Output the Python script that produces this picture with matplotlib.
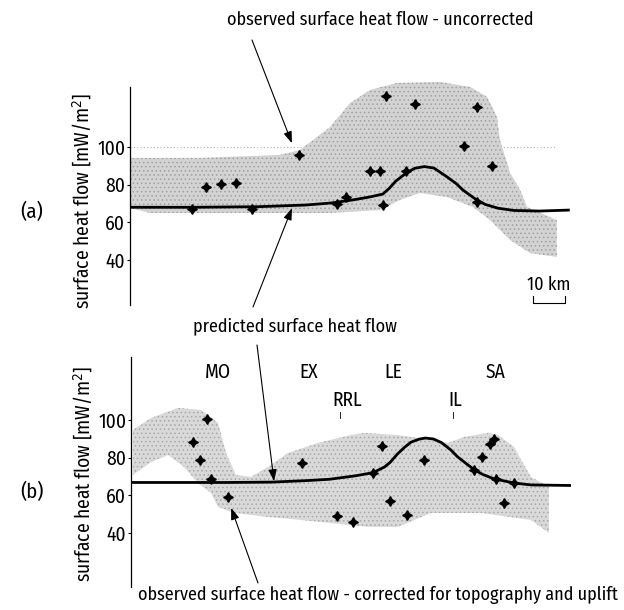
import matplotlib
matplotlib.use("Agg")
import matplotlib.pyplot as plt

plt.rcParams["font.family"] = ["Fira Sans Condensed", "DejaVu Sans"]
plt.rcParams["font.stretch"] = "condensed"
plt.rcParams["hatch.linewidth"] = 0.6

# ---- panel (a): uncorrected ----
curve_a_x = [0, 20, 40, 55, 63, 70, 75, 79, 81, 83, 86.5, 89, 92, 95, 99, 102, 104, 108, 111, 115, 120, 128, 137]
curve_a_y = [68, 68, 68.3, 69.2, 70.3, 72, 73.5, 75, 78, 81.8, 86.4, 88.7, 89.6, 88.8, 84.2, 80.5, 77.2, 72.3, 69.5, 67.5, 66.3, 66, 66.5]

obs_a_x = [19.4, 23.8, 28.4, 33.1, 38.1, 52.8, 64.7, 67.5, 75, 78.1, 79, 80, 86.3, 89, 104.4, 108.4, 113, 108.4]
obs_a_y = [67, 79, 80.5, 81, 67, 96, 70, 73.5, 87, 87, 69, 127, 87, 123, 100.5, 121, 90, 71]

band_a_x = [0, 21.9, 46.9, 53.1, 62.5, 68.8, 75, 83.4, 96.9, 106.3, 111.6, 114.7, 115.6, 118.8, 121.9, 124.1,
            133.4, 133.4, 125, 118.8, 112.5, 107.2, 99.1, 90.6, 84.4, 78.1, 62.5, 6.3, 0]
band_a_y = [94.2, 94.2, 95.8, 98.4, 110.6, 123.4, 130.3, 134, 134.5, 131.9, 126.6, 115.9, 103.7, 86.2, 77.2, 68.1,
            61.2, 41.6, 43.7, 50.6, 61.2, 68.1, 73.4, 75.6, 71.9, 66.5, 65, 65, 67.6]

# ---- panel (b): corrected ----
curve_b_x = [0, 30, 44, 55, 62, 70, 75.6, 79.2, 81, 83.3, 85.5, 87.5, 90, 92, 94.5, 97, 100, 102, 105, 107.3, 110, 113.5, 119.8, 125, 137.5]
curve_b_y = [66.8, 66.8, 67, 67.8, 68.5, 70.3, 72, 75, 77.5, 82, 85.5, 88.2, 89.8, 90.4, 89.9, 88, 84, 80.5, 76.5, 73.5, 71, 68.7, 66.5, 65.5, 65.2]

obs_b_x = [23.8, 19.4, 21.6, 25, 30.3, 53.4, 64.4, 69.4, 75.6, 78.4, 80.9, 86.3, 91.6, 107.2, 109.7, 112.2, 113.4, 114, 116.6, 119.7]
obs_b_y = [100.5, 88.5, 79, 68.5, 59, 77, 49, 46, 72, 86, 57, 49.5, 79, 73.5, 80.5, 87, 90, 68.5, 56, 66.5]

band_b_x = [0.6, 6.3, 14.7, 21.9, 27.2, 29.7, 32.8, 37.5, 42.8, 49.1, 58.4, 68.8, 72.8, 83.4, 93.8, 99.1, 104.1, 111.6,
            114.7, 119.7, 121.9, 125, 130.6, 130.6, 125, 109.4, 93.8, 83.4, 74.1, 53.1, 42.8, 32.2, 27.2, 25, 20.9,
            16.6, 11.6, 6.3, 0.6]
band_b_y = [94.7, 101.1, 106.4, 105.3, 98.4, 82.5, 70.8, 69.7, 75, 82.5, 87.8, 92, 93.1, 92, 89.4, 87.8, 91, 93.1,
            92, 85.7, 78.8, 69.7, 64.4, 40, 46.9, 50.6, 50.6, 43.2, 43.2, 46.9, 48.5, 50.6, 53.8, 61.2, 66.5,
            75, 81.4, 77.7, 70.8]

provinces = ["MO", "EX", "LE", "SA"]
province_x = [27.2, 55.6, 81.9, 114]
faults = ["RRL", "IL"]
fault_label_x = [67.5, 101.3]
fault_x = [65.3, 100.6]

yticks = [40, 60, 80, 100]

fig = plt.figure(figsize=(6.24, 6.10), dpi=100)
ax_a = fig.add_axes([130 / 624, 1 - 309 / 610, 440 / 624, (309 - 75.4) / 610])
ax_b = fig.add_axes([131 / 624, 1 - 593.2 / 610, 440 / 624, (593.2 - 348.4) / 610])


def style(ax, ylim, bounds, label_y):
    ax.set_xlim(0, 137.5)
    ax.set_ylim(*ylim)
    for s in ["top", "right", "bottom"]:
        ax.spines[s].set_visible(False)
    ax.spines["left"].set_bounds(*bounds)
    ax.spines["left"].set_linewidth(0.9)
    ax.set_xticks([])
    ax.set_yticks(yticks)
    ax.tick_params(axis="y", length=2.5, width=0.8, pad=1, labelsize=14)
    ax.set_ylabel("surface heat flow [mW/m$^2$]", fontsize=14)
    ax.yaxis.set_label_coords(-0.082, label_y)
    ax.patch.set_visible(False)


style(ax_a, (14, 138), (16, 132), 0.462)
style(ax_b, (8, 138), (11.3, 133.5), 0.487)

# panel a
ax_a.hlines(100, 0, 133, colors="#b0b0b0", linestyles=(0, (1, 2)), linewidth=0.8, zorder=0)
ax_a.fill(band_a_x, band_a_y, facecolor="#d3d3d3", hatch="....", edgecolor="#a0a0a0", linewidth=0, zorder=1)
ax_a.plot(curve_a_x, curve_a_y, color="black", linewidth=2, zorder=3)
ax_a.plot(obs_a_x, obs_a_y, linestyle="none", marker=(4, 1, 0), markersize=7, color="black", zorder=4)

ax_a.plot([125.9, 125.9, 135.9, 135.9], [20.9, 17.2, 17.2, 20.9], color="black", linewidth=0.8)
ax_a.text(130.9, 26.7, "10 km", ha="center", va="center", fontsize=13)

# panel b
ax_b.fill(band_b_x, band_b_y, facecolor="#d9d9d9", hatch="....", edgecolor="#a8a8a8", linewidth=0, zorder=1)
ax_b.plot(curve_b_x, curve_b_y, color="black", linewidth=2, zorder=3)
ax_b.plot(obs_b_x, obs_b_y, linestyle="none", marker=(4, 1, 0), markersize=7, color="black", zorder=4)

for name, x in zip(provinces, province_x):
    ax_b.text(x, 125.5, name, ha="center", va="center", fontsize=14)
for name, x, tx in zip(faults, fault_label_x, fault_x):
    ax_b.text(x, 110.6, name, ha="center", va="center", fontsize=14)
    ax_b.plot([tx, tx], [101, 104.2], color="black", linewidth=0.6)

arrow = dict(arrowstyle="-|>,head_length=0.7,head_width=0.25", color="black", linewidth=0.8,
             shrinkA=0, shrinkB=0)
ax_a.annotate("", xy=(50.6, 102), xytext=(252, 610 - 40), textcoords="figure pixels", arrowprops=arrow)
ax_a.annotate("", xy=(50.6, 67.5), xytext=(253, 610 - 307), textcoords="figure pixels", arrowprops=arrow)
ax_b.annotate("", xy=(44.7, 67.5), xytext=(257, 610 - 345), textcoords="figure pixels", arrowprops=arrow)
ax_b.annotate("", xy=(31.3, 53.3), xytext=(258, 610 - 583), textcoords="figure pixels", arrowprops=arrow)

fig.text(380 / 624, 1 - 20 / 610, "observed surface heat flow - uncorrected", ha="center", va="center", fontsize=13)
fig.text(295 / 624, 1 - 326 / 610, "predicted surface heat flow", ha="center", va="center", fontsize=13)
fig.text(378 / 624, 1 - 595 / 610, "observed surface heat flow - corrected for topography and uplift",
         ha="center", va="center", fontsize=13)
fig.text(32 / 624, 1 - 212 / 610, "(a)", ha="center", va="center", fontsize=15)
fig.text(32 / 624, 1 - 492 / 610, "(b)", ha="center", va="center", fontsize=15)

fig.savefig("out.png", dpi=100)
